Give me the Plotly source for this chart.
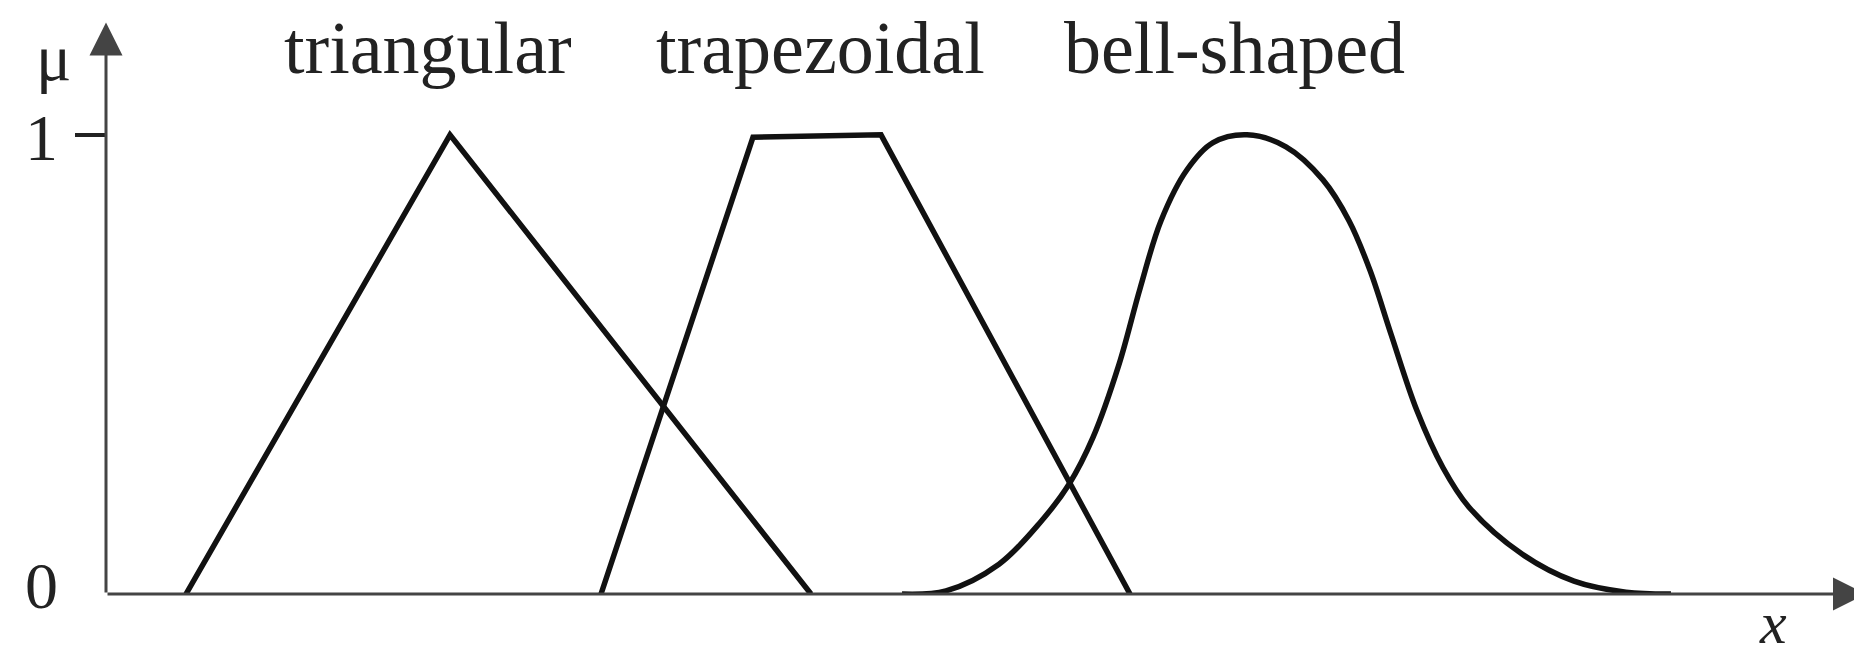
import plotly.graph_objects as go

# ---- data (x in arbitrary units, mu = membership degree) ----
tri_x = [0.80, 3.44, 7.05]
tri_mu = [0.0, 1.0, 0.0]

trap_x = [4.95, 6.47, 7.75, 10.24]
trap_mu = [0.0, 0.995, 1.0, 0.0]

bell_x = [7.96, 8.40, 8.93, 9.35, 9.63, 9.87, 10.13, 10.34, 10.55, 10.81, 11.07, 11.41,
          11.80, 12.17, 12.43, 12.64, 12.85, 13.11, 13.37, 13.63, 14.16, 14.68, 15.20, 15.65]
bell_mu = [0.0, 0.007, 0.065, 0.158, 0.239, 0.341, 0.500, 0.665, 0.813, 0.924, 0.983, 1.0,
           0.974, 0.902, 0.813, 0.705, 0.566, 0.399, 0.275, 0.189, 0.087, 0.028, 0.004, 0.0]

labels = ["triangular", "trapezoidal", "bell-shaped"]
label_x = [3.22, 7.14, 11.28]
label_mu = 1.19

X_MAX = 17.64
MU_MAX = 1.248

LINE = "#111111"
AXIS = "#444444"
TEXT = "#222222"
SERIF = "Liberation Serif, Times New Roman, serif"

fig = go.Figure()
fig.add_trace(go.Scatter(x=tri_x, y=tri_mu, mode="lines", cliponaxis=False,
                         line=dict(color=LINE, width=5.5), showlegend=False))
fig.add_trace(go.Scatter(x=trap_x, y=trap_mu, mode="lines", cliponaxis=False,
                         line=dict(color=LINE, width=5.5), showlegend=False))
fig.add_trace(go.Scatter(x=bell_x, y=bell_mu, mode="lines", cliponaxis=False,
                         line=dict(color=LINE, width=5.5, shape="spline", smoothing=1.0),
                         showlegend=False))

annotations = []
# axis arrows
annotations.append(dict(x=X_MAX - 0.04, y=0, ax=0, ay=0, xref="x", yref="y", axref="x", ayref="y",
                        text="", showarrow=True, arrowhead=2, arrowsize=2.2, arrowwidth=3,
                        arrowcolor=AXIS))
annotations.append(dict(x=0, y=MU_MAX - 0.003, ax=0, ay=0, xref="x", yref="y", axref="x", ayref="y",
                        text="", showarrow=True, arrowhead=2, arrowsize=2.2, arrowwidth=3,
                        arrowcolor=AXIS))
# labels of the curves
for t, lx in zip(labels, label_x):
    annotations.append(dict(x=lx, y=label_mu, xref="x", yref="y", text=t, showarrow=False,
                            xanchor="center", yanchor="middle",
                            font=dict(family=SERIF, size=74, color=TEXT)))
# axis labels (outside the plotting area -> paper coordinates)
annotations.append(dict(x=-0.0368, y=0.0157, xref="paper", yref="paper", text="0", showarrow=False,
                        xanchor="center", yanchor="middle",
                        font=dict(family=SERIF, size=66, color=TEXT)))
annotations.append(dict(x=-0.0368, y=0.796, xref="paper", yref="paper", text="1", showarrow=False,
                        xanchor="center", yanchor="middle",
                        font=dict(family=SERIF, size=66, color=TEXT)))
annotations.append(dict(x=-0.0295, y=0.936, xref="paper", yref="paper", text="μ", showarrow=False,
                        xanchor="center", yanchor="middle",
                        font=dict(family=SERIF, size=66, color=TEXT)))
annotations.append(dict(x=0.945, y=-0.112, xref="paper", yref="paper", text="<i>x</i>", showarrow=False,
                        xanchor="center", yanchor="bottom",
                        font=dict(family=SERIF, size=60, color=TEXT)))

fig.update_layout(
    width=1862, height=659,
    margin=dict(l=98, r=0, t=13, b=73, autoexpand=False),
    paper_bgcolor="white", plot_bgcolor="white",
    annotations=annotations,
    xaxis=dict(range=[0, X_MAX], showgrid=False, zeroline=False, showline=False,
               showticklabels=False, ticks="", automargin=False),
    yaxis=dict(range=[0, MU_MAX], showgrid=False, zeroline=False, showline=False,
               tickvals=[1], ticks="outside", ticklen=30, tickwidth=4, tickcolor=TEXT,
               showticklabels=False, automargin=False),
)

fig.write_html("out.html")
